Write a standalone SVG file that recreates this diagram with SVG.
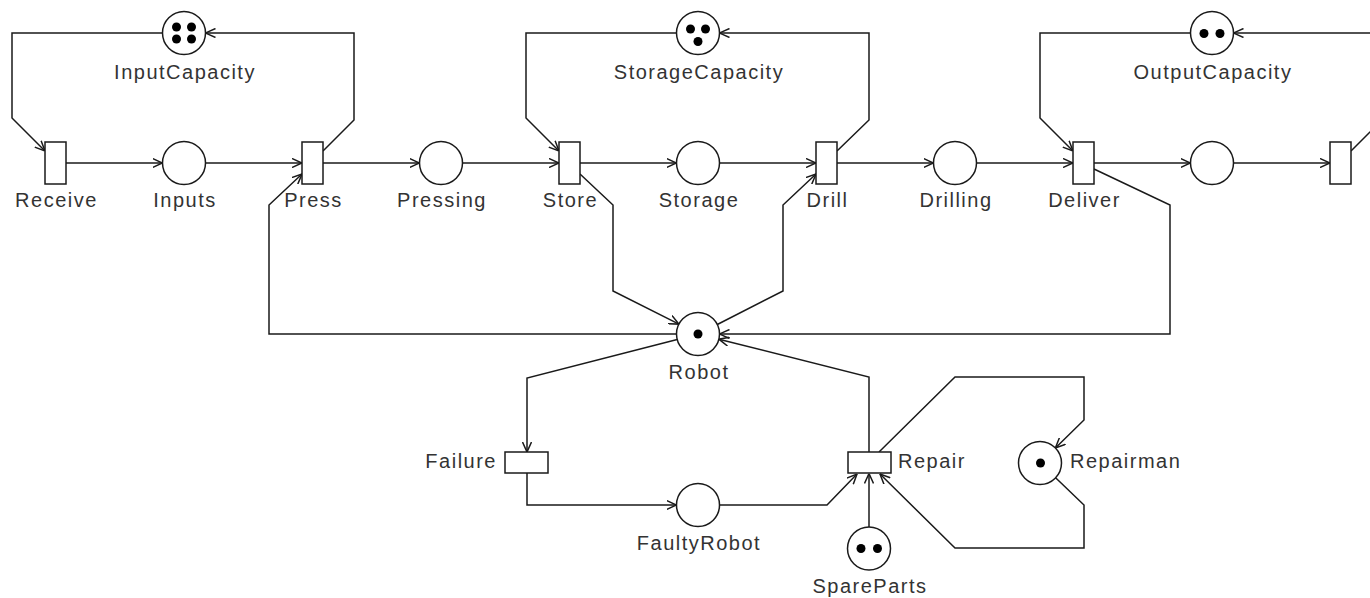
<svg xmlns="http://www.w3.org/2000/svg" width="1370" height="598" viewBox="0 0 1370 598">
<style>
.pl{fill:#fff;stroke:#1a1a1a;stroke-width:1.5}
.tr{fill:#fff;stroke:#1a1a1a;stroke-width:1.5}
.tok{fill:#000;stroke:none}
.arc{fill:none;stroke:#1a1a1a;stroke-width:1.5;marker-end:url(#ah)}
text{font-family:"Liberation Sans",Arial,sans-serif;font-size:20px;letter-spacing:1.5px;fill:#333}
.c{text-anchor:middle}
.e{text-anchor:end}
</style>
<defs>
<marker id="ah" viewBox="0 0 10 10" refX="10" refY="5" markerWidth="10" markerHeight="10" markerUnits="userSpaceOnUse" orient="auto">
<path d="M0,0.5 L10,5 L0,9.5" fill="none" stroke="#1a1a1a" stroke-width="1.5"/>
</marker>
</defs>
<rect width="1370" height="598" fill="#fff"/>
<g id="connectors">
<path class="arc" d="M66,163 H162.5"/>
<path class="arc" d="M205.5,163 H302"/>
<path class="arc" d="M323,163 H419.5"/>
<path class="arc" d="M462.5,163 H559"/>
<path class="arc" d="M580,163 H676.5"/>
<path class="arc" d="M719.5,163 H816"/>
<path class="arc" d="M837,163 H933.5"/>
<path class="arc" d="M976.5,163 H1073"/>
<path class="arc" d="M1094,163 H1190.5"/>
<path class="arc" d="M1233.5,163 H1330"/>
<path class="arc" d="M162.5,33 H12 V118 L45,151"/>
<path class="arc" d="M323,151 L354,120 V33 H205.5"/>
<path class="arc" d="M676.5,33 H526 V118 L559,151"/>
<path class="arc" d="M837,151 L869,120 V33 H719.5"/>
<path class="arc" d="M1190.5,33 H1040 V118 L1073,151"/>
<path class="arc" d="M1351,151 L1383,119 V33 H1233.5"/>
<path class="arc" d="M676.5,334 H269 V205 L302,174"/>
<path class="arc" d="M580,174 L613,205 V291 L678.9,324.1"/>
<path class="arc" d="M717.3,324.5 L783,291 V205 L816,174"/>
<path class="arc" d="M1094,169 L1170,205 V334 H719.5"/>
<path class="arc" d="M677.2,339.4 L527,378 V452"/>
<path class="arc" d="M527,473 V505 H676.5"/>
<path class="arc" d="M719.5,505 H827 L857,474"/>
<path class="arc" d="M869,452 V377 L718.9,339.2"/>
<path class="arc" d="M869,527 V473.5"/>
<path class="arc" d="M879,452 L955,377 H1084 V420 L1055.4,448"/>
<path class="arc" d="M1055.6,477.8 L1084,505 V548 H955 L880,474"/>
</g>
<g id="InputCapacity"><circle class="pl" cx="184" cy="33" r="21.5"/><circle class="tok" cx="176.5" cy="27" r="4.5"/><circle class="tok" cx="191.5" cy="27" r="4.5"/><circle class="tok" cx="176.5" cy="39" r="4.5"/><circle class="tok" cx="191.5" cy="39" r="4.5"/><text class="c" x="185" y="79">InputCapacity</text></g>
<g id="StorageCapacity"><circle class="pl" cx="698" cy="33" r="21.5"/><circle class="tok" cx="690.5" cy="29" r="4.5"/><circle class="tok" cx="705.5" cy="29" r="4.5"/><circle class="tok" cx="698" cy="41.5" r="4.5"/><text class="c" x="699" y="79">StorageCapacity</text></g>
<g id="OutputCapacity"><circle class="pl" cx="1212" cy="33" r="21.5"/><circle class="tok" cx="1204" cy="33.5" r="4.5"/><circle class="tok" cx="1220" cy="33.5" r="4.5"/><text class="c" x="1213" y="79">OutputCapacity</text></g>
<g id="Receive"><rect class="tr" x="45" y="142" width="21" height="42"/><text class="c" x="56.5" y="207">Receive</text></g>
<g id="Inputs"><circle class="pl" cx="184" cy="163" r="21.5"/><text class="c" x="185" y="207">Inputs</text></g>
<g id="Press"><rect class="tr" x="302" y="142" width="21" height="42"/><text class="c" x="313.5" y="207">Press</text></g>
<g id="Pressing"><circle class="pl" cx="441" cy="163" r="21.5"/><text class="c" x="442" y="207">Pressing</text></g>
<g id="Store"><rect class="tr" x="559" y="142" width="21" height="42"/><text class="c" x="570.5" y="207">Store</text></g>
<g id="Storage"><circle class="pl" cx="698" cy="163" r="21.5"/><text class="c" x="699" y="207">Storage</text></g>
<g id="Drill"><rect class="tr" x="816" y="142" width="21" height="42"/><text class="c" x="827.5" y="207">Drill</text></g>
<g id="Drilling"><circle class="pl" cx="955" cy="163" r="21.5"/><text class="c" x="956" y="207">Drilling</text></g>
<g id="Deliver"><rect class="tr" x="1073" y="142" width="21" height="42"/><text class="c" x="1084.5" y="207">Deliver</text></g>
<g id="Output"><circle class="pl" cx="1212" cy="163" r="21.5"/></g>
<g id="Dispatch"><rect class="tr" x="1330" y="142" width="21" height="42"/></g>
<g id="Robot"><circle class="pl" cx="698" cy="334" r="21.5"/><circle class="tok" cx="698" cy="334" r="4.5"/><text class="c" x="699" y="379">Robot</text></g>
<g id="Failure"><rect class="tr" x="505" y="452" width="43" height="21"/><text class="e" x="497" y="468">Failure</text></g>
<g id="FaultyRobot"><circle class="pl" cx="698" cy="505" r="21.5"/><text class="c" x="699" y="550">FaultyRobot</text></g>
<g id="Repair"><rect class="tr" x="848" y="452" width="43" height="21"/><text x="898" y="468">Repair</text></g>
<g id="Repairman"><circle class="pl" cx="1040" cy="463" r="21.5"/><circle class="tok" cx="1040.5" cy="463" r="4.5"/><text x="1070" y="468">Repairman</text></g>
<g id="SpareParts"><circle class="pl" cx="869" cy="548.5" r="21.5"/><circle class="tok" cx="861" cy="548.5" r="4.5"/><circle class="tok" cx="877.5" cy="548.5" r="4.5"/><text class="c" x="870" y="593">SpareParts</text></g>
</svg>
